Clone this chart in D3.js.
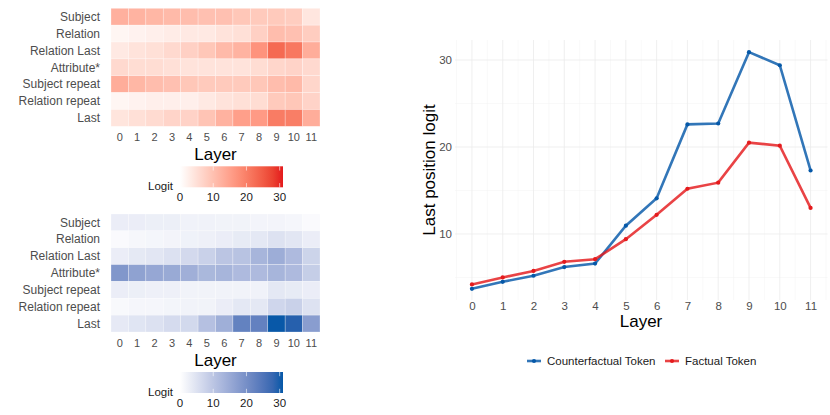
<!DOCTYPE html>
<html>
<head>
<meta charset="utf-8">
<script src="https://cdn.jsdelivr.net/npm/d3@7"></script>
<style>
  body { margin: 0; background: #fff; }
  svg { font-family: "Liberation Sans", Arial, sans-serif; }
</style>
</head>
<body>
<svg id="chart" width="830" height="415"></svg>
<script>
const layers = [0, 1, 2, 3, 4, 5, 6, 7, 8, 9, 10, 11];
const rowNames = ["Subject", "Relation", "Relation Last", "Attribute*", "Subject repeat", "Relation repeat", "Last"];

// last position logit per layer
const counterfactual = [3.7, 4.5, 5.2, 6.2, 6.6, 10.95, 14.1, 22.6, 22.7, 30.9, 29.4, 17.3];
const factual = [4.2, 5.0, 5.75, 6.8, 7.1, 9.4, 12.2, 15.2, 15.9, 20.5, 20.15, 13.0];

// factual token logit by token position (red heatmap)
const redSubject = [12.5, 12, 11.5, 11, 10.5, 10, 10, 9, 8.5, 8.5, 8, 4];
const redRelation = [1.5, 2, 2.5, 3, 3.5, 3.5, 4.5, 5, 7.5, 10.5, 10, 8];
const redRelationLast = [3.5, 4.5, 5, 6, 7.5, 9, 11, 12, 17, 23, 21, 13];
const redAttribute = [6, 5.5, 5.5, 5, 4.5, 4.5, 4.5, 4.5, 5.5, 6.5, 7, 6];
const redSubjectRepeat = [13, 11.5, 10.5, 10, 9, 8.5, 8.5, 8.5, 9, 10.5, 11, 6.5];
const redRelationRepeat = [1.5, 2, 2.5, 2.5, 2.5, 3.5, 4.5, 5, 5.5, 8.5, 9, 7];

// counterfactual token logit by token position (blue heatmap)
const blueSubject = [3, 3, 2.8, 2.8, 2.2, 2.2, 2, 2, 1.8, 1.8, 1.5, 0.8];
const blueRelation = [0.8, 1.3, 1.6, 1.8, 2.3, 2.5, 3, 3.5, 4, 5, 4.2, 3];
const blueRelationLast = [3, 3.8, 4.2, 5.2, 6.5, 8, 10, 10.5, 13, 14.5, 12, 7.5];
const blueAttribute = [18.5, 16.5, 15.5, 15, 14, 12.5, 13, 12, 12, 13, 12, 8.5];
const blueSubjectRepeat = [3, 2.8, 2.5, 2.5, 2, 2, 2, 2, 2.2, 4, 3.5, 3];
const blueRelationRepeat = [1, 1.5, 1.5, 1.7, 2, 2, 3, 4, 4, 7, 8, 5];

const legendTicks = [0, 10, 20, 30];
const yTicks = [10, 20, 30];

const redRows = [redSubject, redRelation, redRelationLast, redAttribute, redSubjectRepeat, redRelationRepeat, factual];
const blueRows = [blueSubject, blueRelation, blueRelationLast, blueAttribute, blueSubjectRepeat, blueRelationRepeat, counterfactual];

const RED = "#e41a1c";
const BLUE = "#0558a8";
const svg = d3.select("#chart");

function drawHeatmap(rows, highColor, top, gradId) {
  const g = svg.append("g");
  const x = d3.scaleBand().domain(layers).range([111, 320]);
  const y = d3.scaleBand().domain(rowNames).range([top, top + 118]);
  const color = d3.scaleLinear().domain([0, 31]).range(["#ffffff", highColor]).interpolate(d3.interpolateLab);

  const cells = [];
  rows.forEach((vals, i) => vals.forEach((v, j) => cells.push({ row: rowNames[i], layer: layers[j], value: v })));

  g.selectAll("rect.cell")
    .data(cells)
    .join("rect")
    .attr("class", "cell")
    .attr("x", d => x(d.layer))
    .attr("y", d => y(d.row))
    .attr("width", x.bandwidth())
    .attr("height", y.bandwidth())
    .attr("fill", d => color(d.value))
    .attr("stroke", "#ffffff")
    .attr("stroke-opacity", 0.45)
    .attr("stroke-width", 0.6);

  g.selectAll("text.row")
    .data(rowNames)
    .join("text")
    .attr("x", 100)
    .attr("y", d => y(d) + y.bandwidth() / 2)
    .attr("dy", "0.35em")
    .attr("text-anchor", "end")
    .attr("font-size", 12)
    .attr("fill", "#4d4d4d")
    .text(d => d);

  g.selectAll("text.col")
    .data(layers)
    .join("text")
    .attr("x", d => x(d) + x.bandwidth() / 2)
    .attr("y", top + 133)
    .attr("text-anchor", "middle")
    .attr("font-size", 11)
    .attr("fill", "#4d4d4d")
    .text(d => d);

  g.append("text")
    .attr("x", (111 + 320) / 2)
    .attr("y", top + 152)
    .attr("text-anchor", "middle")
    .attr("font-size", 17)
    .attr("fill", "#000")
    .text("Layer");

  // colour bar legend
  const lx = d3.scaleLinear().domain([0, 31]).range([180, 283]);
  const barTop = top + 158, barH = 21;
  const grad = svg.append("defs").append("linearGradient").attr("id", gradId);
  d3.range(0, 1.0001, 0.1).forEach(t => {
    grad.append("stop").attr("offset", t).attr("stop-color", color(t * 31));
  });
  g.append("rect")
    .attr("x", lx(0)).attr("y", barTop)
    .attr("width", lx(31) - lx(0)).attr("height", barH)
    .attr("fill", `url(#${gradId})`);
  legendTicks.forEach(t => {
    g.append("line").attr("x1", lx(t)).attr("x2", lx(t))
      .attr("y1", barTop).attr("y2", barTop + barH / 5)
      .attr("stroke", "#fff").attr("stroke-opacity", 0.6);
    g.append("line").attr("x1", lx(t)).attr("x2", lx(t))
      .attr("y1", barTop + barH * 4 / 5).attr("y2", barTop + barH)
      .attr("stroke", "#fff").attr("stroke-opacity", 0.6);
  });
  g.selectAll("text.leg")
    .data(legendTicks)
    .join("text")
    .attr("x", d => lx(d))
    .attr("y", barTop + 35)
    .attr("text-anchor", "middle")
    .attr("font-size", 11.5)
    .attr("fill", "#1a1a1a")
    .text(d => d);
  g.append("text")
    .attr("x", 173)
    .attr("y", barTop + 24)
    .attr("text-anchor", "end")
    .attr("font-size", 11.5)
    .attr("fill", "#1a1a1a")
    .text("Logit");
}

drawHeatmap(redRows, RED, 8.3, "gradRed");
drawHeatmap(blueRows, BLUE, 214, "gradBlue");

// line chart
const x = d3.scaleLinear().domain([-0.55, 11.55]).range([455, 827.5]);
const y = d3.scaleLinear().domain([2.41, 32.3]).range([300, 40]);
const lc = svg.append("g");

const minorX = d3.range(-0.5, 11.6, 1);
const minorY = [5, 15, 25];
lc.selectAll("line.mx").data(minorX).join("line")
  .attr("x1", d => x(d)).attr("x2", d => x(d)).attr("y1", 40).attr("y2", 300)
  .attr("stroke", "#f2f2f2").attr("stroke-width", 0.5);
lc.selectAll("line.my").data(minorY).join("line")
  .attr("x1", 455).attr("x2", 827.5).attr("y1", d => y(d)).attr("y2", d => y(d))
  .attr("stroke", "#f2f2f2").attr("stroke-width", 0.5);
lc.selectAll("line.gx").data(layers).join("line")
  .attr("x1", d => x(d)).attr("x2", d => x(d)).attr("y1", 40).attr("y2", 300)
  .attr("stroke", "#ebebeb").attr("stroke-width", 0.8);
lc.selectAll("line.gy").data(yTicks).join("line")
  .attr("x1", 455).attr("x2", 827.5).attr("y1", d => y(d)).attr("y2", d => y(d))
  .attr("stroke", "#ebebeb").attr("stroke-width", 0.8);

const yAxis = lc.append("g").attr("transform", "translate(455,0)")
  .call(d3.axisLeft(y).tickValues(yTicks).tickSize(0).tickPadding(3));
const xAxis = lc.append("g").attr("transform", "translate(0,300)")
  .call(d3.axisBottom(x).tickValues(layers).tickSize(0).tickPadding(1.5));
[yAxis, xAxis].forEach(a => {
  a.select(".domain").remove();
  a.selectAll("text").attr("font-size", 11.5).attr("fill", "#4d4d4d")
    .attr("font-family", "Liberation Sans, Arial, sans-serif");
});

lc.append("text")
  .attr("transform", "translate(435,170) rotate(-90)")
  .attr("text-anchor", "middle")
  .attr("font-size", 17)
  .attr("fill", "#000")
  .text("Last position logit");
lc.append("text")
  .attr("x", 641)
  .attr("y", 327)
  .attr("text-anchor", "middle")
  .attr("font-size", 17)
  .attr("fill", "#000")
  .text("Layer");

const series = [
  { name: "Counterfactual Token", values: counterfactual, color: BLUE },
  { name: "Factual Token", values: factual, color: RED }
];
const line = d3.line().x((d, i) => x(layers[i])).y(d => y(d));
series.forEach(s => {
  lc.append("path")
    .attr("d", line(s.values))
    .attr("fill", "none")
    .attr("stroke", s.color)
    .attr("stroke-opacity", 0.82)
    .attr("stroke-width", 2.6);
  lc.selectAll(null).data(s.values).join("circle")
    .attr("cx", (d, i) => x(layers[i]))
    .attr("cy", d => y(d))
    .attr("r", 2.1)
    .attr("fill", s.color);
});

// legend
const legendX = [527, 665];
series.forEach((s, i) => {
  const lg = lc.append("g").attr("transform", `translate(${legendX[i]},361)`);
  lg.append("line").attr("x1", 0).attr("x2", 14).attr("stroke", s.color)
    .attr("stroke-opacity", 0.82).attr("stroke-width", 2.6);
  lg.append("circle").attr("cx", 7).attr("r", 2.1).attr("fill", s.color);
  lg.append("text").attr("x", 20).attr("dy", "0.35em")
    .attr("font-size", 11.5).attr("fill", "#1a1a1a").text(s.name);
});
</script>
</body>
</html>
